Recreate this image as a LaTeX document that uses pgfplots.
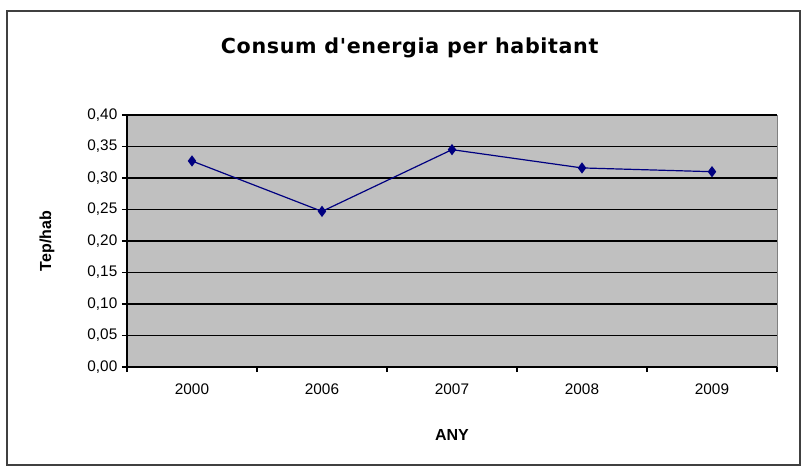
\documentclass[border=0pt]{standalone}
\usepackage{pgfplots}
\pgfplotsset{compat=1.18}
\usepackage{fontspec}
\setmainfont{Liberation Sans}
\newfontfamily\titlefont{DejaVu Sans}
\definecolor{plotgray}{RGB}{192,192,192}
\definecolor{navyline}{RGB}{0,0,128}

\pgfplotstableread{
x val
0 0.327
1 0.247
2 0.345
3 0.316
4 0.310
}\consum

\begin{document}
\begin{tikzpicture}
% whole picture: 807 x 468 px, 1px = 0.75pt, origin at plot area's lower left corner
\path[use as bounding box] (-95.25pt,-75.75pt) rectangle (510pt,275.25pt);
\draw[black!75, line width=1pt] (-90pt,-73.5pt) rectangle (504.75pt,267pt);
\begin{axis}[
  at={(0,0)}, anchor=south west,
  scale only axis,
  width=487.5pt, height=189pt,
  xmin=-0.5, xmax=4.5,
  ymin=0, ymax=0.4,
  axis x line*=bottom, axis y line*=left,
  axis line style={black, line width=0.8pt},
  axis background/.style={fill=plotgray, draw=black!50},
  xtick={0,1,2,3,4},
  xticklabels={2000,2006,2007,2008,2009},
  major x tick style={draw=none},
  minor xtick={-0.5,0.5,1.5,2.5,3.5,4.5},
  minor tick length=3.75pt,
  major tick length=3.75pt,
  tick align=outside,
  tick style={black, line width=0.8pt},
  ytick={0,0.05,...,0.41},
  ymajorgrids,
  major grid style={black, line width=0.8pt},
  yticklabel style={/pgf/number format/.cd, fixed, fixed zerofill, precision=2, use comma},
  /pgf/number format/assume math mode=true,
  tick label style={font=\fontsize{11.5pt}{13pt}\selectfont},
  xticklabel style={yshift=-5pt},
  xlabel={\textbf{ANY}},
  xlabel style={font=\fontsize{12pt}{14pt}\selectfont, at={(axis description cs:0.5,0)}, anchor=center, yshift=-51pt},
  ylabel={\textbf{Tep/hab}},
  ylabel style={font=\fontsize{12pt}{14pt}\selectfont, at={(axis description cs:0,0.5)}, anchor=center, yshift=60pt},
]
\addplot[navyline, line width=0.9pt, mark=diamond*, mark size=3.5pt, mark options={fill=navyline}] table[x=x, y=val] {\consum};
\end{axis}
\node[font=\titlefont\bfseries\fontsize{15.5pt}{18pt}\selectfont\addfontfeature{LetterSpace=3}] at (212pt,239pt) {Consum d'energia per habitant};
\end{tikzpicture}
\end{document}
